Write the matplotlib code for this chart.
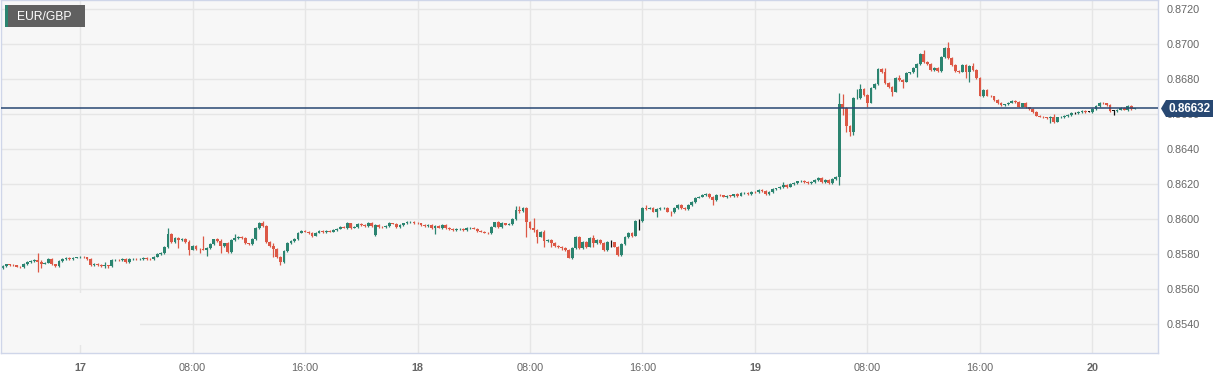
import matplotlib
matplotlib.use("Agg")
import matplotlib.pyplot as plt
import matplotlib.dates as mdates
from matplotlib.patches import Rectangle, Polygon
import numpy as np
import pandas as pd

plt.rcParams["font.family"] = ["Liberation Sans", "DejaVu Sans"]

# --- data: 15 minute candles, prices in pips above base ---
symbol = "EUR/GBP"
start = "2025-03-16 18:30"
base = 0.85
first_open = 72.0
gap_opens = {106: 90.9}

closes = [
    73.0, 74.0, 73.8, 73.5, 72.8, 72.3, 74.0, 75.5, 76.0, 76.8, 75.5, 74.5,
    75.0, 77.0, 74.0, 73.0, 76.0, 77.0, 77.5, 77.0, 77.8, 78.0, 78.5, 78.0,
    77.0, 73.5, 74.5, 73.5, 73.0, 73.4, 73.2, 76.5, 76.8, 76.4, 77.0, 75.5,
    77.0, 77.3, 77.0, 77.2, 77.6, 77.3, 77.0, 78.5, 80.0, 80.5, 84.0, 91.4,
    87.0, 89.0, 88.0, 88.5, 87.0, 82.5, 84.5, 83.0, 82.8, 82.5, 83.5, 85.5,
    88.3, 87.5, 84.5, 86.0, 81.0, 88.0, 89.0, 89.5, 89.0, 86.0, 85.8, 88.5,
    94.7, 97.9, 96.0, 87.0, 84.5, 82.7, 78.5, 75.6, 81.9, 86.1, 87.5, 88.5,
    92.2, 93.0, 92.7, 92.0, 90.5, 92.2, 93.0, 92.5, 93.0, 92.8, 93.7, 94.5,
    95.2, 95.0, 97.5, 95.0, 95.2, 97.0, 96.8, 96.0, 97.5, 96.0, 96.6, 95.5,
    95.3, 96.0, 97.5, 97.3, 95.6, 96.6, 97.5, 98.3, 98.5, 97.6, 97.4, 96.6,
    96.0, 96.6, 95.0, 96.0, 95.0, 96.6, 95.0, 94.3, 93.7, 94.2, 94.5, 93.7,
    94.7, 95.0, 94.5, 93.2, 92.8, 92.2, 91.8, 95.6, 98.0, 95.6, 97.5, 96.8,
    97.0, 100.0, 105.0, 104.5, 106.5, 98.5, 94.7, 93.7, 89.9, 92.8, 87.5, 88.0,
    86.1, 84.7, 84.2, 83.2, 82.3, 77.9, 83.6, 89.9, 83.6, 87.0, 84.2, 89.0,
    86.0, 88.0, 86.1, 82.3, 86.6, 86.6, 84.2, 79.4, 85.5, 89.4, 91.8, 90.5,
    98.9, 98.9, 106.5, 105.8, 106.2, 104.2, 105.7, 106.0, 106.2, 104.2, 104.0, 106.1,
    108.0, 106.5, 105.7, 108.0, 109.9, 112.2, 112.8, 113.5, 114.1, 112.8, 110.9, 113.7,
    113.5, 112.8, 113.3, 113.2, 114.1, 113.3, 114.7, 114.9, 114.1, 115.6, 115.4, 116.6,
    116.0, 114.1, 115.6, 117.1, 117.5, 118.0, 119.4, 118.5, 119.8, 120.8, 121.5, 121.7,
    121.3, 120.4, 121.3, 122.3, 123.2, 121.0, 122.3, 120.4, 123.0, 124.1, 165.5, 163.2,
    153.3, 149.9, 168.9, 169.2, 174.3, 170.9, 166.5, 174.7, 176.9, 185.7, 184.2, 177.5,
    175.6, 172.8, 180.8, 179.4, 178.5, 183.2, 183.7, 186.5, 188.4, 194.1, 189.9, 188.4,
    185.0, 186.5, 184.6, 192.4, 197.5, 191.8, 188.0, 184.6, 184.2, 188.0, 183.8, 187.6,
    185.0, 180.4, 170.5, 173.7, 170.5, 170.0, 168.0, 166.1, 165.0, 165.5, 166.5, 167.3,
    167.0, 164.2, 166.0, 163.7, 163.0, 161.3, 159.0, 158.5, 158.0, 157.5, 158.2, 155.6,
    158.0, 158.2, 158.7, 159.5, 160.6, 160.6, 161.3, 161.7, 161.3, 161.3, 163.0, 164.7,
    166.5, 166.0, 165.1, 161.8, 161.8, 162.5, 163.5, 162.5, 164.7, 163.0, 163.2,
]

wick_up = [
    0.6, 0.5, 0.4, 0.5, 0.4, 0.5, 0.6, 0.5, 0.4, 0.5, 3.6, 1.1,
    0.5, 0.6, 0.4, 0.5, 0.5, 0.4, 0.6, 0.5, 0.4, 0.5, 0.5, 0.4,
    0.5, 0.6, 0.5, 0.4, 0.5, 1.8, 0.3, 0.5, 0.4, 0.5, 0.6, 0.4,
    0.5, 0.4, 0.5, 0.4, 0.5, 0.4, 0.5, 0.6, 0.5, 0.6, 0.8, 3.3,
    0.6, 0.5, 0.5, 0.6, 0.5, 0.8, 0.5, 0.6, 0.4, 7.5, 0.5, 0.6,
    0.5, 0.6, 0.8, 0.5, 0.6, 0.5, 2.4, 0.5, 0.6, 0.5, 0.4, 0.6,
    0.6, 0.5, 1.1, 0.6, 0.5, 1.5, 0.5, 0.6, 0.5, 0.6, 0.5, 0.6,
    0.5, 0.4, 0.5, 0.6, 0.5, 0.4, 0.5, 0.5, 0.4, 0.6, 0.5, 0.4,
    0.5, 0.6, 0.5, 0.4, 0.5, 0.6, 0.5, 0.4, 0.5, 0.6, 0.5, 0.4,
    0.5, 0.6, 0.5, 0.4, 0.6, 0.5, 0.4, 0.5, 0.6, 0.4, 0.5, 0.5,
    0.4, 0.5, 0.6, 0.5, 0.4, 0.5, 0.6, 0.4, 0.5, 0.4, 0.5, 0.6,
    0.5, 0.4, 0.5, 0.6, 0.4, 0.5, 0.5, 0.6, 0.5, 0.6, 0.5, 0.4,
    0.5, 0.6, 2.6, 2.6, 0.5, 0.6, 0.5, 5.7, 0.6, 0.5, 0.6, 0.5,
    0.6, 0.5, 0.4, 0.5, 0.6, 0.5, 0.6, 0.5, 0.6, 0.5, 0.6, 0.5,
    1.9, 0.5, 0.6, 0.5, 0.6, 1.4, 0.5, 0.6, 0.5, 0.6, 0.5, 0.6,
    0.5, 1.1, 0.6, 1.5, 0.5, 0.4, 0.5, 0.6, 0.4, 0.5, 0.6, 0.5,
    0.6, 0.5, 0.4, 0.5, 0.6, 0.5, 0.4, 0.5, 0.6, 0.5, 0.5, 0.4,
    0.5, 0.4, 0.5, 0.6, 0.4, 0.5, 0.6, 0.4, 0.5, 0.6, 0.4, 0.5,
    0.4, 0.5, 0.6, 0.5, 0.4, 0.6, 1.9, 0.5, 0.6, 0.5, 0.4, 0.5,
    0.5, 0.4, 0.6, 0.5, 0.6, 0.5, 0.4, 0.5, 0.6, 0.5, 6.3, 5.7,
    0.6, 0.5, 0.8, 5.1, 2.7, 0.6, 0.5, 0.6, 0.5, 0.6, 0.5, 1.8,
    0.5, 0.6, 0.5, 1.2, 0.5, 0.6, 0.4, 0.5, 0.6, 0.5, 2.5, 0.6,
    0.5, 0.6, 0.5, 0.6, 0.5, 3.5, 0.5, 0.6, 0.5, 0.6, 0.5, 0.6,
    1.4, 0.5, 0.6, 0.5, 0.6, 0.5, 0.4, 0.5, 0.6, 0.4, 0.5, 0.4,
    0.5, 0.4, 0.5, 0.6, 0.5, 0.4, 0.5, 0.4, 0.5, 0.4, 0.5, 1.8,
    0.5, 0.4, 0.5, 0.4, 0.5, 0.6, 0.4, 0.5, 0.4, 0.6, 0.5, 0.4,
    0.5, 0.5, 0.4, 0.5, 0.6, 0.5, 0.4, 0.5, 0.4, 0.5, 0.4,
]

wick_dn = [
    0.5, 0.4, 0.5, 0.6, 0.4, 0.5, 0.4, 0.5, 0.6, 0.4, 5.6, 2.7,
    0.5, 0.4, 0.6, 0.5, 0.4, 0.5, 0.4, 0.6, 0.5, 0.4, 0.5, 0.6,
    0.4, 0.5, 0.6, 0.4, 0.5, 0.8, 1.4, 0.5, 0.4, 0.6, 0.5, 0.4,
    0.5, 0.6, 0.4, 0.5, 0.4, 0.6, 0.5, 0.4, 0.5, 0.4, 0.6, 0.5,
    0.6, 0.5, 4.8, 0.5, 0.6, 3.1, 0.5, 0.6, 2.4, 0.5, 3.6, 0.5,
    0.6, 0.5, 4.1, 0.5, 0.6, 0.5, 0.6, 0.5, 0.4, 0.6, 0.5, 0.6,
    0.5, 0.6, 0.5, 0.6, 0.5, 4.2, 0.6, 1.9, 0.5, 0.6, 0.5, 0.4,
    0.6, 0.5, 0.4, 0.5, 0.6, 0.5, 0.4, 0.6, 0.5, 0.4, 0.5, 0.6,
    0.5, 0.4, 0.5, 0.6, 0.4, 0.5, 0.6, 0.4, 0.5, 0.4, 0.6, 0.5,
    0.4, 0.5, 0.6, 0.4, 0.5, 0.6, 0.4, 0.5, 0.4, 0.6, 0.5, 0.4,
    0.5, 0.6, 0.5, 3.6, 0.4, 0.5, 0.6, 0.4, 0.5, 0.6, 0.4, 0.5,
    0.6, 0.4, 0.5, 0.6, 0.5, 0.4, 0.6, 0.5, 0.4, 0.6, 0.5, 0.4,
    0.5, 0.6, 0.5, 1.3, 0.6, 8.6, 0.5, 0.9, 3.8, 0.5, 3.3, 0.6,
    1.9, 0.5, 0.6, 0.9, 0.6, 0.5, 0.6, 0.5, 0.6, 0.5, 0.6, 0.5,
    1.8, 0.5, 0.6, 0.5, 0.6, 2.4, 0.5, 0.6, 0.5, 0.6, 0.5, 0.6,
    0.5, 5.2, 0.6, 0.5, 0.4, 0.5, 2.9, 0.5, 0.4, 0.5, 2.1, 0.5,
    0.5, 0.6, 0.5, 0.4, 0.5, 0.6, 0.5, 0.4, 0.5, 0.6, 2.9, 0.5,
    0.4, 0.5, 0.6, 0.4, 0.5, 0.6, 0.4, 0.5, 0.6, 0.4, 0.5, 0.6,
    0.5, 0.6, 0.4, 0.5, 0.6, 0.4, 0.5, 0.6, 0.4, 0.5, 0.6, 0.4,
    0.5, 0.6, 0.4, 0.5, 0.6, 0.4, 0.5, 0.6, 0.4, 0.5, 4.7, 3.8,
    3.4, 2.5, 1.9, 0.6, 0.5, 0.6, 2.5, 0.5, 0.6, 0.5, 0.6, 0.5,
    0.6, 2.8, 0.5, 0.6, 3.8, 0.5, 0.6, 0.5, 5.2, 0.5, 0.6, 0.5,
    0.6, 0.5, 0.6, 0.5, 0.6, 0.5, 0.6, 0.5, 0.6, 0.5, 3.0, 5.3,
    0.5, 0.6, 0.5, 0.6, 0.5, 0.6, 0.4, 0.5, 0.6, 0.5, 0.4, 0.5,
    0.6, 0.5, 0.4, 0.5, 0.6, 0.5, 0.4, 0.5, 0.6, 0.5, 2.5, 0.5,
    0.4, 0.5, 0.6, 0.4, 0.5, 0.6, 0.4, 0.5, 0.6, 0.4, 0.5, 0.6,
    0.5, 0.4, 0.5, 0.6, 2.4, 0.5, 0.4, 0.5, 0.6, 0.5, 0.4,
]

y_ticks = [0.8540, 0.8560, 0.8580, 0.8600, 0.8620, 0.8640, 0.8660, 0.8680, 0.8700, 0.8720]
x_ticks = pd.date_range("2025-03-17 00:00", "2025-03-20 00:00", freq="8h")

GREEN = "#2b8470"
RED = "#dc5846"
DOJI = "#111111"
NAVY = "#284872"

# --- candles ---
times = pd.date_range(start, periods=len(closes), freq="15min")
x = mdates.date2num(times)
opens_pips = [first_open] + closes[:-1]
for k, v in gap_opens.items():
    opens_pips[k] = v
o = base + np.array(opens_pips) / 10000
c = base + np.array(closes) / 10000
top = np.maximum(o, c)
bot = np.minimum(o, c)
hi = top + np.array(wick_up) / 10000
lo = bot - np.array(wick_dn) / 10000
cols = np.where(c > o, GREEN, np.where(c < o, RED, DOJI))

W, H = 1229, 379
fig = plt.figure(figsize=(W / 100, H / 100), dpi=100)
ax = fig.add_axes([1 / W, 26 / H, 1157 / W, 353 / H])
ax.set_facecolor("#f7f7f7")

width = 0.8 * 15 / 1440
ax.vlines(x, lo, hi, colors=cols, lw=0.9, zorder=2)
ax.bar(x, np.maximum(top - bot, 0.00002), bottom=bot, width=width,
       color=cols, lw=0, zorder=2)

last = c[-1]
ax.axhline(last, color=NAVY, lw=1.1, zorder=3)

ax.set_xlim(pd.Timestamp("2025-03-17") - pd.Timedelta(hours=5.62),
            pd.Timestamp("2025-03-20") + pd.Timedelta(hours=4.66))
ax.set_ylim(0.85234, 0.87251)

ax.set_yticks(y_ticks)
ax.set_yticklabels([f"{v:.4f}" for v in y_ticks])
ax.yaxis.tick_right()
ax.set_xticks(mdates.date2num(x_ticks))
ax.set_xticklabels([str(t.day) if t.hour == 0 else t.strftime("%H:%M") for t in x_ticks])
for lab, t in zip(ax.get_xticklabels(), x_ticks):
    if t.hour == 0:
        lab.set_fontweight("bold")
        lab.set_color("#333333")

ax.tick_params(axis="y", length=0, pad=6.5, labelsize=7.8, labelcolor="#666666")
ax.tick_params(axis="x", length=0, pad=7, labelsize=7.8, labelcolor="#666666")
ax.grid(color="#e6e6e6", lw=1)
ax.set_axisbelow(True)
for sp in ax.spines.values():
    sp.set_color("#cfd6e9")
    sp.set_linewidth(1)

# blank patch in the lower-left corner of the plot
ax.add_patch(Rectangle((0, 8 / 353), 139 / 1157, 52 / 353, transform=ax.transAxes,
                       facecolor="#f7f7f7", lw=0, zorder=0.9))

# symbol badge
fig.patches.append(Rectangle((5 / W, (H - 27) / H), 80 / W, 22 / H, transform=fig.transFigure,
                             facecolor="#606060", lw=0, zorder=5))
fig.patches.append(Rectangle((5 / W, (H - 27) / H), 2.5 / W, 22 / H, transform=fig.transFigure,
                             facecolor=GREEN, lw=0, zorder=6))
fig.text(17 / W, (H - 16.5) / H, symbol, color="white", fontsize=8.7,
         ha="left", va="center", zorder=7)

# last price tag (sits over the 0.8660 label as in the source)
tag = [(1161, 108.5), (1166, 100), (1213, 100), (1213, 117), (1166, 117)]
fig.patches.append(Polygon([(px / W, (H - py) / H) for px, py in tag], closed=True,
                           transform=fig.transFigure, facecolor=NAVY, lw=0, zorder=5))
fig.text(1189.5 / W, (H - 108.5) / H, f"{last:.5f}", color="white", fontsize=8.5,
         fontweight="bold", ha="center", va="center", zorder=7)

fig.savefig("out.png", dpi=100)
